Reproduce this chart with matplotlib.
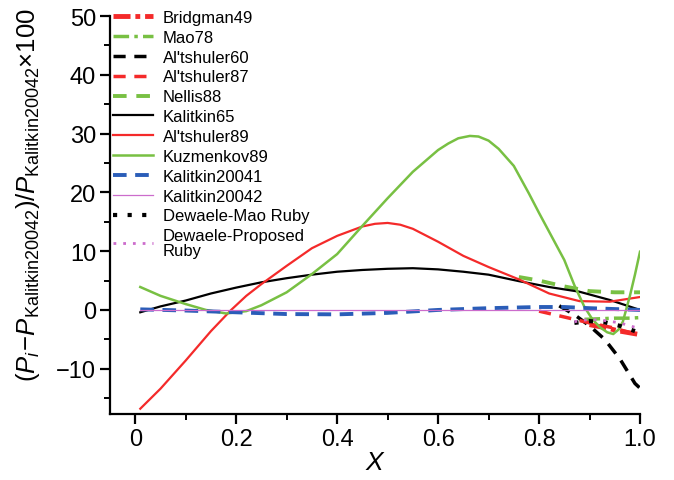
import matplotlib
matplotlib.use("Agg")
import matplotlib.pyplot as plt
from matplotlib.ticker import MultipleLocator

plt.rcParams['font.family'] = ['Liberation Sans', 'DejaVu Sans']
plt.rcParams['mathtext.fontset'] = 'custom'
plt.rcParams['mathtext.rm'] = 'Liberation Sans'
plt.rcParams['mathtext.it'] = 'Liberation Sans:italic'

# data
x_bridgman49 = [0.90, 0.93, 0.96, 1.00]
y_bridgman49 = [-2.5, -3.0, -3.6, -4.2]

x_mao78 = [0.89, 0.92, 0.95, 0.98, 1.00]
y_mao78 = [-1.6, -1.5, -1.4, -1.4, -1.3]

x_altshuler60 = [0.84, 0.87, 0.90, 0.93, 0.96, 0.99, 1.00]
y_altshuler60 = [0.7, -0.8, -2.7, -5.0, -8.3, -12.5, -13.3]

x_altshuler87 = [0.80, 0.85, 0.90, 0.95, 1.00]
y_altshuler87 = [-0.2, -1.2, -2.2, -3.1, -4.4]

x_nellis88 = [0.76, 0.80, 0.85, 0.90, 0.95, 1.00]
y_nellis88 = [5.6, 5.0, 4.0, 3.2, 3.0, 3.0]

x_kal65 = [0.01, 0.05, 0.1, 0.15, 0.2, 0.25, 0.3, 0.35, 0.4, 0.45, 0.5, 0.55,
           0.6, 0.65, 0.7, 0.76, 0.82, 0.88, 0.94, 1.0]
y_kal65 = [-0.4, 0.6, 1.6, 2.8, 3.8, 4.7, 5.4, 6.0, 6.5, 6.8, 7.0, 7.1,
           6.9, 6.5, 6.0, 4.9, 3.9, 3.1, 1.7, 0.0]

x_alt89 = [0.01, 0.05, 0.1, 0.15, 0.19, 0.22, 0.25, 0.3, 0.35, 0.4, 0.45, 0.475, 0.5,
           0.525, 0.55, 0.6, 0.65, 0.7, 0.76, 0.82, 0.88, 0.94, 1.0]
y_alt89 = [-16.8, -13.4, -8.6, -3.6, 0.0, 2.4, 4.4, 7.5, 10.5, 12.6, 14.2, 14.65, 14.8,
           14.5, 13.8, 11.6, 9.2, 7.3, 5.2, 2.8, 1.5, 1.4, 2.2]

x_kuz89 = [0.01, 0.05, 0.1, 0.14, 0.18, 0.22, 0.25, 0.3, 0.35, 0.4, 0.45, 0.5, 0.55,
           0.6, 0.62, 0.64, 0.663, 0.68, 0.7, 0.72, 0.75, 0.78, 0.8, 0.82, 0.85,
           0.87, 0.89, 0.905, 0.92, 0.935, 0.947, 0.958, 0.966, 0.973, 0.98, 0.99, 1.0]
y_kuz89 = [3.9, 2.4, 1.0, 0.0, -0.6, -0.2, 0.8, 3.0, 6.1, 9.5, 14.3, 19.0, 23.5,
           27.2, 28.3, 29.2, 29.6, 29.5, 28.8, 27.4, 24.5, 19.8, 16.5, 13.3, 8.5,
           4.2, 0.5, -1.5, -2.9, -3.8, -4.1, -3.3, -2.0, 0.2, 2.4, 6.0, 9.9]

x_kal20041 = [0.01, 0.1, 0.2, 0.3, 0.4, 0.5, 0.6, 0.7, 0.8, 0.85, 0.9, 1.0]
y_kal20041 = [0.1, -0.1, -0.4, -0.7, -0.75, -0.5, 0.0, 0.3, 0.5, 0.5, 0.3, 0.0]

x_kal20042 = [0.01, 1.0]
y_kal20042 = [0.0, 0.0]

x_dew_mao = [0.87, 0.90, 0.93, 0.96, 0.99]
y_dew_mao = [-2.2, -1.9, -2.1, -2.7, -3.6]

x_dew_prop = [0.87, 0.90, 0.93, 0.96, 1.00]
y_dew_prop = [-2.0, -1.6, -1.8, -2.2, -3.2]

red = '#f42a2a'
green = '#78c043'
blue = '#2a5db8'
pink = '#cc6ccc'

fig = plt.figure(figsize=(6.74, 4.81), dpi=100)
ax = fig.add_axes([110 / 674, 1 - 415 / 481, 530 / 674, 398 / 481])

ax.plot(x_bridgman49, y_bridgman49, color=red, lw=3.5, dashes=(3.5, 1, 1, 1), label='Bridgman49')
ax.plot(x_mao78, y_mao78, color=green, lw=2.5, dashes=(4.5, 1.5, 1, 1.5), label='Mao78')
ax.plot(x_altshuler60, y_altshuler60, color='black', lw=2.5, dashes=(3.5, 2.5), label="Al'tshuler60")
ax.plot(x_altshuler87, y_altshuler87, color=red, lw=2.5, dashes=(3.5, 2.5), label="Al'tshuler87")
ax.plot(x_nellis88, y_nellis88, color=green, lw=2.8, dashes=(3.5, 2.5), label='Nellis88')
ax.plot(x_kal65, y_kal65, color='black', lw=1.6, label='Kalitkin65')
ax.plot(x_alt89, y_alt89, color=red, lw=1.6, label="Al'tshuler89")
ax.plot(x_kuz89, y_kuz89, color=green, lw=1.8, label='Kuzmenkov89')
ax.plot(x_kal20041, y_kal20041, color=blue, lw=2.8, dashes=(3.5, 2.2), label='Kalitkin20041')
ax.plot(x_kal20042, y_kal20042, color=pink, lw=0.9, label='Kalitkin20042')
ax.plot(x_dew_mao, y_dew_mao, color='black', lw=3, dashes=(1, 2.5), label='Dewaele-Mao Ruby')
ax.plot(x_dew_prop, y_dew_prop, color=pink, lw=2, dashes=(1, 2.5), label='Dewaele-Proposed\nRuby')

ax.set_xlim(-0.05, 1.0)
ax.set_ylim(-17.7, 50)
ax.xaxis.set_minor_locator(MultipleLocator(0.1))
ax.yaxis.set_major_locator(MultipleLocator(10))
ax.yaxis.set_minor_locator(MultipleLocator(5))
ax.set_xticks([0, 0.2, 0.4, 0.6, 0.8, 1.0])
ax.set_xticklabels(['0', '0.2', '0.4', '0.6', '0.8', '1.0'])

for side in ['top', 'right']:
    ax.spines[side].set_visible(False)
for side in ['left', 'bottom']:
    ax.spines[side].set_linewidth(1.6)
ax.tick_params(which='major', direction='out', length=7, width=1.6, labelsize=17, pad=3)
ax.tick_params(which='minor', direction='out', length=4, width=1.4)

ax.set_xlabel('$X$', fontsize=19, labelpad=0)
ax.set_ylabel(r'$(P_{i}\!-\!P_{\mathrm{Kalitkin20042}})/P_{\mathrm{Kalitkin20042}}$$\times$100',
              fontsize=18.5)
ax.yaxis.set_label_coords(-0.128, 0.553)

leg = ax.legend(loc='upper left', bbox_to_anchor=(113 / 674, 1 - 11 / 481), bbox_transform=fig.transFigure,
                frameon=False, fontsize=12, handlelength=2.4, handletextpad=0.6,
                labelspacing=0.29, borderpad=0, borderaxespad=0)
for t in leg.get_texts():
    t.set_linespacing(1.0)

fig.savefig('out.png', dpi=100)
